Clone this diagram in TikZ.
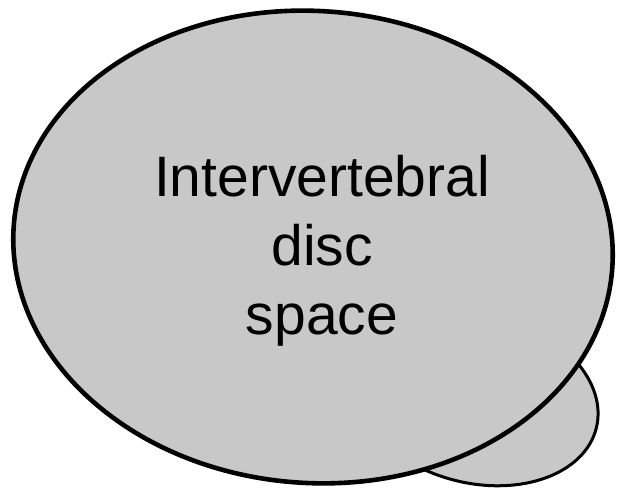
\documentclass[tikz,border=0pt]{standalone}
\usepackage{fontspec}
\setmainfont{Liberation Sans}
\definecolor{discgray}{HTML}{C8C8C8}
\begin{document}
\begin{tikzpicture}[
  x=1pt,y=1pt,
  disc/.style={draw=black,fill=discgray,line width=4.6pt},
  lobe/.style={draw=black,fill=discgray,line width=3pt},
  caption/.style={align=center,font=\fontsize{57}{69}\selectfont,inner sep=0pt}
]
\useasboundingbox (0,0) rectangle (624,-489);
% bulging part behind the disc
\draw[lobe,rotate around={-14:(476,-398)}] (476,-398) ellipse [x radius=124,y radius=85];
% main disc
\draw[disc,rotate around={-4:(313,-247)}] (313,-247) ellipse [x radius=300,y radius=236];
\node[caption] (label) at (322,-251) {Intervertebral\\disc\\space};
\end{tikzpicture}
\end{document}
